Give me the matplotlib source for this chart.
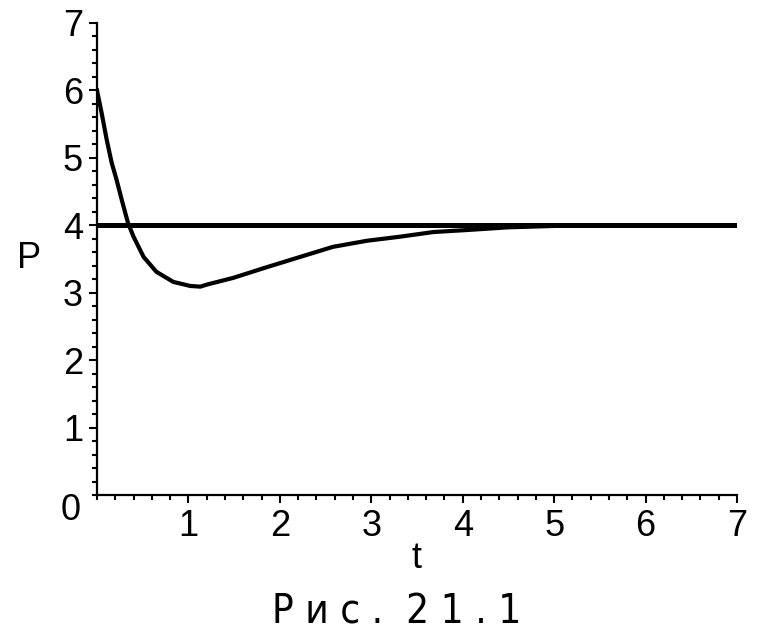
import matplotlib
matplotlib.use("Agg")
import matplotlib.pyplot as plt
from matplotlib.ticker import MultipleLocator

# curve
t_vals = [0.0, 0.05, 0.106, 0.16, 0.215, 0.27, 0.34, 0.40, 0.51, 0.65, 0.835,
          1.02, 1.13, 1.2, 1.49, 1.86, 2.22, 2.58, 2.95, 3.31, 3.68, 4.05, 4.5,
          5.0, 5.5, 6.0, 6.5, 7.0]
p_vals = [6.0, 5.67, 5.27, 4.93, 4.67, 4.38, 4.03, 3.83, 3.53, 3.31, 3.16,
          3.10, 3.09, 3.12, 3.22, 3.38, 3.53, 3.68, 3.77, 3.83, 3.90, 3.93, 3.97,
          3.99, 4.0, 4.0, 4.0, 4.0]
# equilibrium level
p_eq = 4.0
t_range = [0, 7]
p_range = [0, 7]
caption = "Р и с .  2 1 . 1"

plt.rcParams['font.family'] = ['Liberation Sans Narrow', 'Liberation Sans', 'DejaVu Sans']

fig = plt.figure(figsize=(7.83, 6.39), dpi=100)
ax = fig.add_axes([97/783, 1-495/639, 640/783, 472/639])

ax.plot(t_range, [p_eq, p_eq], color="black", lw=3.6, solid_capstyle="butt")
ax.plot(t_vals, p_vals, color="black", lw=3.0)

ax.set_xlim(t_range)
ax.set_ylim(p_range)
for s in ["top", "right"]:
    ax.spines[s].set_visible(False)
for s in ["left", "bottom"]:
    ax.spines[s].set_linewidth(1.6)

ax.xaxis.set_major_locator(MultipleLocator(1))
ax.xaxis.set_minor_locator(MultipleLocator(0.2))
ax.yaxis.set_major_locator(MultipleLocator(1))
ax.yaxis.set_minor_locator(MultipleLocator(0.2))
ax.tick_params(which="major", length=6, width=1.5, labelsize=26, pad=4)
ax.tick_params(which="minor", length=3.5, width=1.5)

ax.set_xticks([1, 2, 3, 4, 5, 6, 7])
ax.set_yticks([1, 2, 3, 4, 5, 6, 7])
# the 0 sits lower than the other labels, in the corner
ax.annotate("0", xy=(0, 0), xytext=(-26, -16), textcoords="offset pixels",
            fontsize=26, ha="center", va="center", annotation_clip=False)

ax.set_xlabel("t", fontsize=26, labelpad=-2)
ax.set_ylabel("P", fontsize=26, rotation=0, labelpad=24, va="center")

fig.text(397/783, 1-612/639, caption, fontsize=29, ha="center", va="center",
         family="DejaVu Sans", fontstretch="condensed")

fig.savefig("out.png", dpi=100, facecolor="white")
